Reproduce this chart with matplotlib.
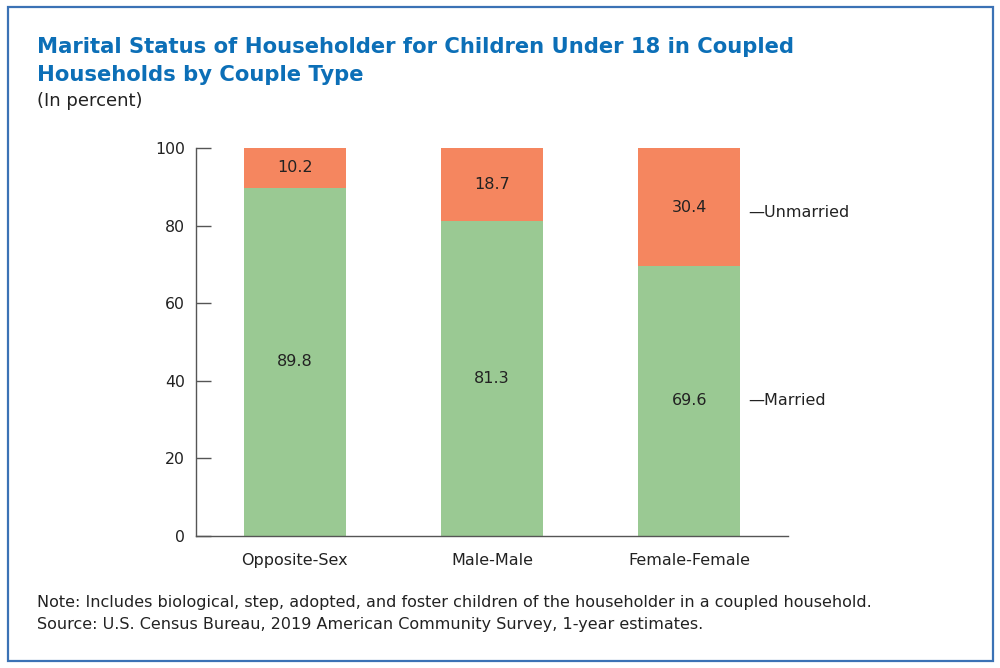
import matplotlib.pyplot as plt
from matplotlib.patches import Rectangle

couple_types = ['Opposite-Sex', 'Male-Male', 'Female-Female']
married = [89.8, 81.3, 69.6]
unmarried = [10.2, 18.7, 30.4]
y_ticks = [0, 20, 40, 60, 80, 100]

green = '#9AC993'
orange = '#F5865F'
blue = '#0C6FB7'
grey = '#555555'

plt.rcParams['font.family'] = ['DejaVu Sans']

fig = plt.figure(figsize=(10, 6.68), dpi=100)
ax = fig.add_axes([0.196, 0.1976, 0.592, 0.5808])

x = list(range(len(couple_types)))
ax.bar(x, married, width=0.516, color=green)
ax.bar(x, unmarried, width=0.516, bottom=married, color=orange)

for i in x:
    ax.text(i, married[i] / 2, f'{married[i]:.1f}', ha='center', va='center',
            fontsize=11.5, color='#222222')
    ax.text(i, married[i] + unmarried[i] / 2, f'{unmarried[i]:.1f}',
            ha='center', va='center', fontsize=11.5, color='#222222')

# side labels next to the last bar
last = len(x) - 1
ax.text(last + 0.3, married[last] + unmarried[last] / 2 - 1.5, '\u2014Unmarried',
        ha='left', va='center', fontsize=11.5, color='#222222', clip_on=False)
ax.text(last + 0.3, married[last] / 2, '\u2014Married',
        ha='left', va='center', fontsize=11.5, color='#222222', clip_on=False)

ax.set_xlim(-0.5, 2.5)
ax.set_ylim(0, 100)
ax.set_yticks(y_ticks)
ax.set_xticks(x)
ax.set_xticklabels(couple_types)
ax.tick_params(axis='y', direction='in', length=11, width=1, color=grey,
               labelsize=11.3, pad=8, labelcolor='#222222')
ax.tick_params(axis='x', length=0, labelsize=11.5, pad=12, labelcolor='#222222')
for s in ['top', 'right']:
    ax.spines[s].set_visible(False)
for s in ['left', 'bottom']:
    ax.spines[s].set_color(grey)
    ax.spines[s].set_linewidth(1)

fig.text(0.037, 0.92, 'Marital Status of Householder for Children Under 18 in Coupled',
         fontsize=15.25, fontweight='bold', color=blue, va='baseline')
fig.text(0.037, 0.878, 'Households by Couple Type',
         fontsize=15.25, fontweight='bold', color=blue, va='baseline')
fig.text(0.037, 0.842, '(In percent)', fontsize=13, color='#222222', va='baseline')

fig.text(0.037, 0.091,
         'Note: Includes biological, step, adopted, and foster children of the householder in a coupled household.',
         fontsize=11.5, color='#222222', va='baseline')
fig.text(0.037, 0.058,
         'Source: U.S. Census Bureau, 2019 American Community Survey, 1-year estimates.',
         fontsize=11.5, color='#222222', va='baseline')

fig.add_artist(Rectangle((0.008, 0.011), 0.985, 0.978, transform=fig.transFigure,
                         fill=False, edgecolor='#3B72B5', linewidth=1.6))

fig.savefig('out.png', dpi=100)
